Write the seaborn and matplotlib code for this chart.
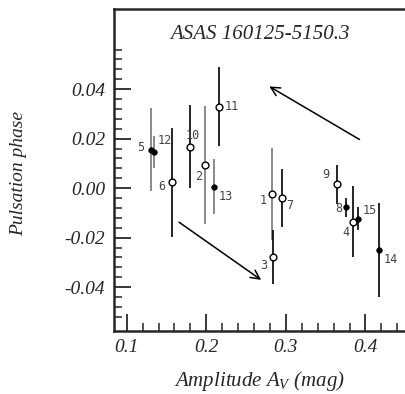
import numpy as np
import pandas as pd
import seaborn as sns
import matplotlib.pyplot as plt
from matplotlib.ticker import MultipleLocator, FixedLocator

# data
star_ids = [1, 2, 3, 4, 5, 6, 7, 8, 9, 10, 11, 12, 13, 14, 15]
amplitude = [0.283, 0.198, 0.284, 0.384, 0.131, 0.157, 0.295, 0.376, 0.364, 0.179, 0.216, 0.134, 0.210, 0.4165, 0.391]
phase = [-0.0023, 0.0094, -0.0279, -0.0135, 0.0155, 0.0023, -0.0040, -0.0078, 0.0016, 0.0168, 0.0330, 0.0147, 0.0006, -0.0249, -0.0124]
phase_err = [0.0186, 0.0240, 0.0110, 0.0142, 0.0167, 0.0220, 0.0116, 0.0040, 0.0078, 0.0168, 0.0160, 0.0064, 0.0110, 0.0190, 0.0046]
filled = [False, False, False, False, True, False, False, True, False, False, False, True, True, True, True]
grey_bar = [True, True, False, False, True, False, False, False, False, False, False, True, True, False, False]
# label offsets in points (dx, dy, ha)
label_pos = {1: (-4, -5, 'right'), 2: (-2, -8, 'right'), 3: (-4, -6, 'right'), 4: (-2, -8, 'right'),
             5: (-5, 2, 'right'), 6: (-5, -3, 'right'), 7: (3, -5, 'left'), 8: (-3, -1, 'right'),
             9: (-5, 7, 'right'), 10: (2, 8, 'center'), 11: (4, 0, 'left'), 12: (3, 8, 'left'),
             13: (3, -7, 'left'), 14: (4, -7, 'left'), 15: (3, 6, 'left')}

df = pd.DataFrame({'id': star_ids, 'amp': amplitude, 'phase': phase, 'err': phase_err,
                   'filled': filled, 'grey': grey_bar})

sns.set_style("ticks")
plt.rcParams['font.family'] = ['Liberation Serif', 'DejaVu Serif']
plt.rcParams['mathtext.fontset'] = 'custom'
plt.rcParams['mathtext.it'] = 'Liberation Serif:italic'
plt.rcParams['mathtext.rm'] = 'Liberation Serif:italic'

fig = plt.figure(figsize=(4.06, 3.94), dpi=100)
ax = fig.add_axes([113.7 / 406, 63 / 394, (406 - 113.7) / 406, 322 / 394])

# error bars
for _, r in df.iterrows():
    ax.vlines(r['amp'], r['phase'] - r['err'], r['phase'] + r['err'],
              color='#777777' if r['grey'] else 'black', lw=1.2, zorder=1)

sns.scatterplot(data=df[~df['filled']], x='amp', y='phase', marker='o', s=24,
                facecolor='white', edgecolor='black', linewidth=1.0, ax=ax, zorder=3)
sns.scatterplot(data=df[df['filled']], x='amp', y='phase', marker='o', s=16,
                color='black', edgecolor='black', linewidth=0.5, ax=ax, zorder=4)

for _, r in df.iterrows():
    dx, dy, ha = label_pos[int(r['id'])]
    ax.annotate(str(int(r['id'])), (r['amp'], r['phase']), xytext=(dx, dy),
                textcoords='offset points', ha=ha, va='center',
                fontsize=8.5, family='DejaVu Sans Mono', color='#444444')

# trend arrows
ax.annotate('', xy=(0.2761, 0.0417), xytext=(0.3956, 0.0191),
            arrowprops=dict(arrowstyle='->', lw=1.1, color='black', mutation_scale=16))
ax.annotate('', xy=(0.2718, -0.0377), xytext=(0.1629, -0.0131),
            arrowprops=dict(arrowstyle='->', lw=1.1, color='black', mutation_scale=16))

ax.set_xlim(0.0836, 0.451)
ax.set_ylim(-0.0577, 0.0724)
ax.xaxis.set_major_locator(FixedLocator([0.1, 0.2, 0.3, 0.4]))
ax.xaxis.set_minor_locator(MultipleLocator(0.02))
ax.yaxis.set_major_locator(FixedLocator([-0.04, -0.02, 0.0, 0.02, 0.04]))
ax.yaxis.set_minor_locator(FixedLocator(np.round(np.arange(-0.052, 0.0561, 0.004), 3)))
ax.set_xticklabels(['0.1', '0.2', '0.3', '0.4'])
ax.set_yticklabels(['-0.04', '-0.02', '0.00', '0.02', '0.04'])
ax.tick_params(which='major', direction='in', length=12, width=1.3, labelsize=14, pad=6)
ax.tick_params(which='minor', direction='in', length=6, width=1.1)
for lab in ax.get_xticklabels() + ax.get_yticklabels():
    lab.set_style('italic')

for side in ['left', 'bottom', 'top']:
    ax.spines[side].set_linewidth(1.8)
ax.spines['right'].set_visible(False)

ax.set_xlabel('Amplitude $A_V$ (mag)', fontsize=15, style='italic', labelpad=9)
ax.set_ylabel('Pulsation phase', fontsize=14, style='italic')
ax.yaxis.set_label_coords(-0.295, 0.488)
ax.text(0.5, 0.92, 'ASAS 160125-5150.3', transform=ax.transAxes, ha='center',
        va='center', fontsize=15, style='italic')

fig.savefig('out.png', dpi=100)
